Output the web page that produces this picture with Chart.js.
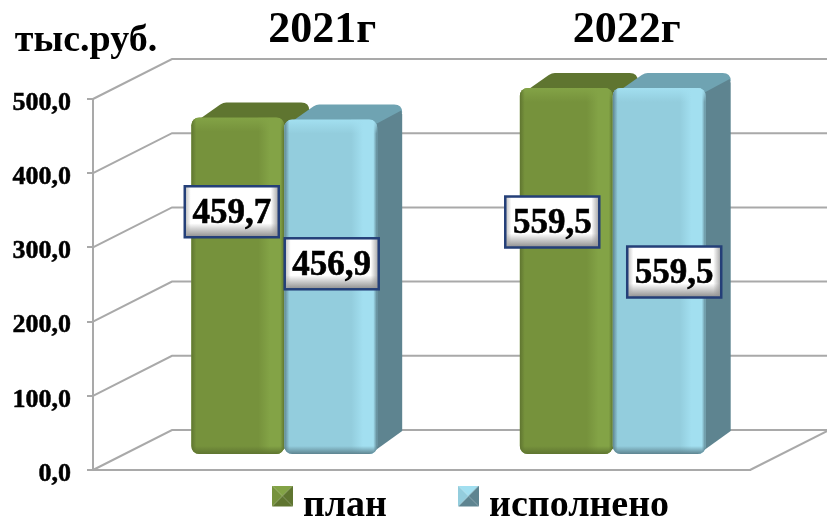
<!DOCTYPE html>
<html>
<head>
<meta charset="utf-8">
<style>
    html, body { margin: 0; padding: 0; background: #fff; }
    canvas { display: block; }
</style>
<script src="https://cdn.jsdelivr.net/npm/chart.js@4/dist/chart.umd.min.js"></script>
</head>
<body>
<canvas id="canvas" width="827" height="518"></canvas>
<script>
const categories = ['2021г', '2022г'];
const seriesNames = ['план', 'исполнено'];
const planValues = [459.7, 559.5];
const doneValues = [456.9, 559.5];
const tickValues = [0, 100, 200, 300, 400, 500];
const axisMax = 500;
const unitLabel = 'тыс.руб.';

const serif = '"Liberation Serif", "Times New Roman", serif';

// bar colours: face, lit strip, top, side
const planColors = { face: '#76923c', lit: '#83a346', top: '#5f7530', side: '#5f7530' };
const doneColors = { face: '#93cddd', lit: '#a2dff0', top: '#6fa3b2', side: '#5e8490' };
const barColors = [planColors, doneColors];

// 3d look
const wallDx = 79, wallDy = 40;
const barShift = 27;
const depthX = 25, depthY = 15;
const labelBox = { w: 94, h: 51 };
// where each value box sits relative to the middle of its bar
const labelShift = [
    [[-6, -74], [-14, -49]],
    [[1, -23], [15, 1]]
];
const titleShift = [65, 41];

function legendIcon(colors) {
    // icon sits in the top of a taller canvas so it rides above the text middle
    const c = document.createElement('canvas');
    c.width = 21;
    c.height = 41;
    const g = c.getContext('2d');
    const tri = (pts, col) => {
        g.fillStyle = col;
        g.beginPath();
        pts.forEach((p, i) => i ? g.lineTo(p[0], p[1]) : g.moveTo(p[0], p[1]));
        g.closePath();
        g.fill();
    };
    tri([[0, 0], [21, 0], [10.5, 10.5]], colors.lit);
    tri([[21, 0], [21, 21], [10.5, 10.5]], colors.side);
    tri([[0, 21], [21, 21], [10.5, 10.5]], colors.side);
    tri([[0, 0], [0, 21], [10.5, 10.5]], colors.face);
    return c;
}
const legendIcons = barColors.map(legendIcon);

function wallPlugin(chart) {
    const { ctx, chartArea, scales } = chart;
    const yScale = scales.y;
    ctx.save();
    ctx.strokeStyle = '#a9a9a9';
    ctx.lineWidth = 2;
    tickValues.forEach(v => {
        const py = yScale.getPixelForValue(v);
        ctx.beginPath();
        ctx.moveTo(chartArea.left, py);
        ctx.lineTo(chartArea.left + wallDx, py - wallDy);
        ctx.lineTo(chart.width, py - wallDy);
        ctx.stroke();
    });
    const floorY = yScale.getPixelForValue(0);
    ctx.beginPath();
    ctx.moveTo(chartArea.right, floorY);
    ctx.lineTo(chartArea.right + wallDx, floorY - wallDy);
    ctx.stroke();
    ctx.restore();
}

function drawBarBody(ctx, bar, colors) {
    const left = bar.x - bar.width / 2, right = bar.x + bar.width / 2;
    const top = bar.y, base = bar.base;
    ctx.lineJoin = 'round';
    // top
    ctx.fillStyle = colors.top;
    ctx.beginPath();
    ctx.moveTo(left + 2, top + 6);
    ctx.lineTo(left + depthX + 4, top - depthY + 2);
    ctx.quadraticCurveTo(left + depthX + 7, top - depthY, left + depthX + 10, top - depthY);
    ctx.lineTo(right + depthX - 8, top - depthY);
    ctx.quadraticCurveTo(right + depthX, top - depthY, right + depthX, top - depthY + 8);
    ctx.lineTo(right, top + 12);
    ctx.closePath();
    ctx.fill();
    // side
    ctx.fillStyle = colors.side;
    ctx.beginPath();
    ctx.moveTo(right - 4, top + 6);
    ctx.lineTo(right + depthX - 1, top - depthY + 6);
    ctx.lineTo(right + depthX, top - depthY + 10);
    ctx.lineTo(right + depthX, base - depthY - 8);
    ctx.lineTo(right - 7, base);
    ctx.closePath();
    ctx.fill();
}

function drawBarLight(ctx, bar, colors) {
    const left = bar.x - bar.width / 2, right = bar.x + bar.width / 2;
    const top = bar.y, base = bar.base;
    ctx.save();
    ctx.beginPath();
    ctx.roundRect(left, top, bar.width, base - top, 8);
    ctx.clip();
    // lit strip on the right
    const strip = ctx.createLinearGradient(right - 26, 0, right, 0);
    strip.addColorStop(0, colors.face);
    strip.addColorStop(0.45, colors.lit);
    strip.addColorStop(0.85, colors.lit);
    strip.addColorStop(1, colors.side);
    ctx.fillStyle = strip;
    ctx.fillRect(right - 26, top, 26, base - top);
    // bevel at the top
    const bevel = ctx.createLinearGradient(0, top, 0, top + 14);
    bevel.addColorStop(0, colors.lit);
    bevel.addColorStop(1, colors.lit + '00');
    ctx.fillStyle = bevel;
    ctx.fillRect(left, top, bar.width, 14);
    // dark edge at the bottom and left
    const foot = ctx.createLinearGradient(0, base - 8, 0, base);
    foot.addColorStop(0, colors.side + '00');
    foot.addColorStop(1, colors.side);
    ctx.fillStyle = foot;
    ctx.fillRect(left, base - 8, bar.width, 8);
    const edge = ctx.createLinearGradient(left, 0, left + 5, 0);
    edge.addColorStop(0, colors.side);
    edge.addColorStop(1, colors.side + '00');
    ctx.fillStyle = edge;
    ctx.fillRect(left, top, 5, base - top);
    ctx.restore();
}

function drawValueBox(ctx, cx, cy, text) {
    const x = cx - labelBox.w / 2, y = cy - labelBox.h / 2;
    const w = labelBox.w, h = labelBox.h;
    ctx.fillStyle = '#ffffff';
    ctx.fillRect(x, y, w, h);
    // bevel: bottom and sides go grey
    const low = ctx.createLinearGradient(0, y + h - 14, 0, y + h);
    low.addColorStop(0, 'rgba(140,140,140,0)');
    low.addColorStop(1, 'rgba(140,140,140,1)');
    ctx.fillStyle = low;
    ctx.fillRect(x, y + h - 14, w, 14);
    const rightSide = ctx.createLinearGradient(x + w - 8, 0, x + w, 0);
    rightSide.addColorStop(0, 'rgba(150,150,150,0)');
    rightSide.addColorStop(1, 'rgba(150,150,150,0.9)');
    ctx.fillStyle = rightSide;
    ctx.fillRect(x + w - 8, y, 8, h);
    const leftSide = ctx.createLinearGradient(x, 0, x + 6, 0);
    leftSide.addColorStop(0, 'rgba(170,170,170,0.8)');
    leftSide.addColorStop(1, 'rgba(170,170,170,0)');
    ctx.fillStyle = leftSide;
    ctx.fillRect(x, y, 6, h);
    ctx.strokeStyle = '#243f78';
    ctx.lineWidth = 2.5;
    ctx.strokeRect(x, y, w, h);
    ctx.fillStyle = '#000';
    ctx.strokeStyle = '#000';
    ctx.lineWidth = 0.6;
    ctx.font = 'bold 35px ' + serif;
    ctx.textAlign = 'center';
    ctx.textBaseline = 'middle';
    ctx.fillText(text, cx, cy + 2);
    ctx.strokeText(text, cx, cy + 2);
}

const bars3d = {
    id: 'bars3d',
    afterLayout(chart) {
        // push the legend row down to the bottom and right of the plot
        chart.legend.left += 200;
        chart.legend.top = 407;
    },
    beforeDatasetsDraw(chart) {
        wallPlugin(chart);
    },
    // chart.js paints the last dataset first; here the right hand bar has to go on top
    beforeDatasetDraw() {
        return false;
    },
    afterDatasetsDraw(chart) {
        const { ctx, scales } = chart;
        [0, 1].forEach(ds => {
            const meta = chart.getDatasetMeta(ds);
            ctx.save();
            ctx.translate(barShift, 0);
            meta.data.forEach(bar => drawBarBody(ctx, bar, barColors[ds]));
            meta.controller.draw();
            meta.data.forEach(bar => drawBarLight(ctx, bar, barColors[ds]));
            ctx.restore();
        });
        const rawValues = [planValues, doneValues];
        ctx.save();
        rawValues.forEach((values, ds) => {
            const meta = chart.getDatasetMeta(ds);
            values.forEach((v, i) => {
                const bar = meta.data[i];
                const shift = labelShift[ds][i];
                const text = v.toFixed(1).replace('.', ',');
                drawValueBox(ctx, bar.x + barShift + shift[0], (bar.y + bar.base) / 2 + shift[1], text);
            });
        });
        // category names over the plot, unit over the axis
        ctx.fillStyle = '#000';
        ctx.textBaseline = 'middle';
        ctx.textAlign = 'center';
        ctx.font = 'bold 44px ' + serif;
        categories.forEach((name, i) => {
            ctx.fillText(name, scales.x.getPixelForTick(i) + titleShift[i], 31);
        });
        ctx.font = 'bold 38px ' + serif;
        ctx.fillText(unitLabel, 86, 41);
        ctx.restore();
    }
};

new Chart(document.getElementById('canvas'), {
    type: 'bar',
    plugins: [bars3d],
    data: {
        labels: categories,
        datasets: [
            {
                label: seriesNames[0],
                data: planValues.map(v => Math.min(v, axisMax)),
                backgroundColor: planColors.face,
                borderRadius: 8,
                borderSkipped: false,
                yAxisID: 'yBars',
                clip: false
            },
            {
                label: seriesNames[1],
                data: doneValues.map(v => Math.min(v, axisMax)),
                backgroundColor: doneColors.face,
                borderRadius: 8,
                borderSkipped: false,
                yAxisID: 'yBars',
                clip: false
            }
        ]
    },
    options: {
        responsive: false,
        animation: false,
        layout: { padding: { top: 99, right: 77, left: 0, bottom: 0 } },
        datasets: { bar: { categoryPercentage: 0.566, barPercentage: 1 } },
        plugins: {
            tooltip: { enabled: false },
            legend: {
                position: 'bottom',
                maxHeight: 48,
                labels: {
                    usePointStyle: true,
                    boxWidth: 3,
                    padding: 80,
                    color: '#000',
                    font: { family: serif, size: 38, weight: 'bold' },
                    generateLabels: () => seriesNames.map((name, i) => ({
                        text: name,
                        pointStyle: legendIcons[i],
                        datasetIndex: i,
                        fontColor: '#000'
                    }))
                }
            }
        },
        scales: {
            x: {
                grid: { display: false },
                border: { color: '#a9a9a9', width: 2 },
                ticks: { display: false },
                afterFit: s => { s.height = 0; }
            },
            y: {
                min: 0,
                max: axisMax,
                afterFit: s => { s.width = 93; },
                afterBuildTicks: s => { s.ticks = tickValues.map(v => ({ value: v })); },
                grid: { drawOnChartArea: false, color: '#a9a9a9', lineWidth: 2, tickLength: 6 },
                border: { color: '#a9a9a9', width: 2 },
                ticks: {
                    color: '#000',
                    padding: 16,
                    labelOffset: 4,
                    textStrokeColor: '#000',
                    textStrokeWidth: 0.5,
                    font: { family: serif, size: 26, weight: 'bold' },
                    callback: v => v.toFixed(1).replace('.', ',')
                }
            },
            // the bars stand a little inside the floor, so they get their own scale
            yBars: {
                display: false,
                min: -21.86,
                max: 485
            }
        }
    }
});
</script>
</body>
</html>
